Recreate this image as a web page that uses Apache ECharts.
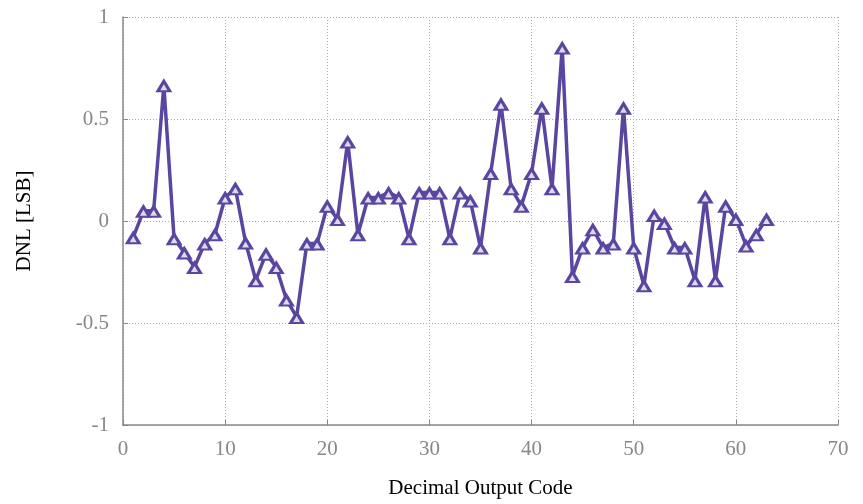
<!DOCTYPE html>
<html><head><meta charset="utf-8">
<script src="https://cdn.jsdelivr.net/npm/echarts@6/dist/echarts.min.js"></script>
<style>html,body{margin:0;padding:0;background:#fff}#c{width:863px;height:504px}</style>
</head><body><div id="c"></div>
<script>
const codes = [1,2,3,4,5,6,7,8,9,10,11,12,13,14,15,16,17,18,19,20,21,22,23,24,25,26,27,28,29,30,31,32,33,34,35,36,37,38,39,40,41,42,43,44,45,46,47,48,49,50,51,52,53,54,55,56,57,58,59,60,61,62,63];
const dnl = [-0.08,0.05,0.05,0.665,-0.085,-0.155,-0.225,-0.11,-0.065,0.115,0.16,-0.105,-0.29,-0.16,-0.225,-0.385,-0.47,-0.11,-0.11,0.075,0.01,0.39,-0.065,0.115,0.115,0.14,0.115,-0.085,0.14,0.14,0.14,-0.085,0.14,0.1,-0.13,0.235,0.575,0.16,0.075,0.235,0.555,0.16,0.85,-0.27,-0.13,-0.04,-0.13,-0.11,0.555,-0.13,-0.315,0.03,-0.01,-0.13,-0.13,-0.29,0.12,-0.29,0.075,0.01,-0.12,-0.065,0.01];
const xTicks = [0,10,20,30,40,50,60,70];
const yTicks = [-1,-0.5,0,0.5,1];

const chart = echarts.init(document.getElementById('c'));
const font = 'Liberation Serif';
const purple = '#5a46a0';
const pts = codes.map((c,i)=>[c,dnl[i]]);
chart.setOption({
  animation:false,
  grid:{left:123,right:25,top:17,bottom:77,containLabel:false},
  xAxis:{type:'value',min:xTicks[0],max:xTicks[xTicks.length-1],interval:10,
    name:'Decimal Output Code',nameLocation:'middle',nameGap:53,
    nameTextStyle:{fontFamily:font,fontSize:21,color:'#000'},
    axisLine:{show:true,onZero:false,lineStyle:{color:'#888',width:1.5}},
    axisTick:{show:true,inside:true,length:5,lineStyle:{color:'#888'}},
    axisLabel:{fontFamily:font,fontSize:21,color:'#888',margin:14},
    splitLine:{show:true,lineStyle:{color:'#aaa',type:[1,2],width:1}}},
  yAxis:{type:'value',min:yTicks[0],max:yTicks[yTicks.length-1],interval:0.5,
    name:'DNL [LSB]',nameLocation:'middle',nameGap:88,nameRotate:90,
    nameTextStyle:{fontFamily:font,fontSize:21,color:'#000'},
    axisLine:{show:true,onZero:false,lineStyle:{color:'#888',width:1.5}},
    axisTick:{show:true,inside:true,length:5,lineStyle:{color:'#888'}},
    axisLabel:{fontFamily:font,fontSize:21,color:'#888',margin:14},
    splitLine:{show:true,lineStyle:{color:'#aaa',type:[1,2],width:1}}},
  series:[
    {type:'line',data:pts,z:2,
     lineStyle:{color:purple,width:3.5},
     symbol:'triangle',symbolSize:[17,14],
     itemStyle:{color:purple}},
    {type:'scatter',data:pts,z:3,silent:true,
     symbol:'triangle',symbolSize:[7,6],symbolOffset:[0,2],
     itemStyle:{color:'#fff'}}
  ]
});
</script></body></html>
